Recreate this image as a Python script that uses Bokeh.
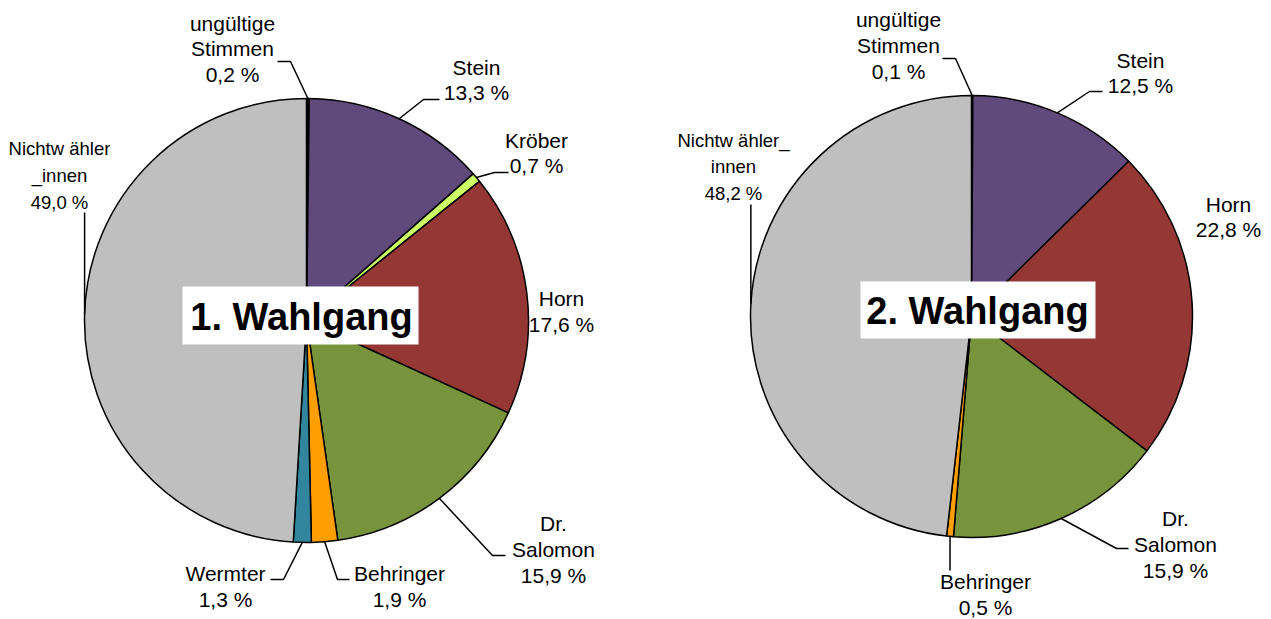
import math
from bokeh.plotting import figure
from bokeh.models import Range1d
from bokeh.core.properties import value
from bokeh.embed import file_html
from bokeh.resources import INLINE

# ---------------- data ----------------
title_1 = "1. Wahlgang"
names_1 = ["ungültige\nStimmen", "Stein", "Kröber", "Horn", "Dr.\nSalomon",
           "Behringer", "Wermter", "Nichtw ähler\n_innen"]
values_1 = [0.2, 13.3, 0.7, 17.6, 15.9, 1.9, 1.3, 49.0]
colors_1 = ["#000000", "#604A7B", "#CCFF66", "#953735", "#77933C",
            "#FF9E00", "#31859C", "#BFBFBF"]

title_2 = "2. Wahlgang"
names_2 = ["ungültige\nStimmen", "Stein", "Horn", "Dr.\nSalomon",
           "Behringer", "Nichtw ähler_\ninnen"]
values_2 = [0.1, 12.5, 22.8, 15.9, 0.5, 48.2]
colors_2 = ["#000000", "#604A7B", "#953735", "#77933C", "#FF9E00", "#BFBFBF"]

# ---------------- layout (page pixel coordinates) ----------------
W, H = 1271, 619
FONT = "Liberation Sans"

def X(px):
    return px

def Y(py):
    return H - py

charts = [
    dict(title=title_1, names=names_1, values=values_1, colors=colors_1,
         center=(306, 320), radius=222,
         box=(182, 418, 286, 344), title_pos=(301, 316),
         labels=[(232, 48.5), (476, 79.5), (536, 152.5), (561, 311),
                 (553, 549), (399, 586), (225, 586), (59, 175)],
         small=[False, False, False, False, False, False, False, True],
         leaders=[[(290, 61), (277, 61)], [(423, 99), (439, 99)],
                  [(494, 172), (508, 172)], None,
                  [(492, 555), (505, 555)], [(337, 579), (349, 579)],
                  [(283, 579), (270, 579)], ("v", 212)]),
    dict(title=title_2, names=names_2, values=values_2, colors=colors_2,
         center=(971, 316), radius=221,
         box=(860, 1095, 281, 338), title_pos=(977, 310),
         labels=[(898, 45), (1140, 72.5), (1228, 216.5), (1175, 544),
                 (985, 594), (733, 166.5)],
         small=[False, False, False, False, False, True],
         leaders=[[(955, 58), (942, 58)], [(1089, 91), (1102, 91)], None,
                  [(1116, 548), (1128, 548)], ("v", 570), ("v", 204)]),
]

p = figure(width=W, height=H, output_backend="svg", toolbar_location=None,
           x_range=Range1d(0, W), y_range=Range1d(0, H), min_border=0)
p.axis.visible = False
p.grid.visible = False
p.outline_line_color = None
p.background_fill_color = "white"

for ch in charts:
    vals = ch["values"]
    total = sum(vals)
    cx, cy = X(ch["center"][0]), Y(ch["center"][1])
    r = ch["radius"]
    starts, ends, mids = [], [], []
    cum = 0.0
    for v in vals:
        a0 = math.pi / 2 - 2 * math.pi * cum / total
        a1 = math.pi / 2 - 2 * math.pi * (cum + v) / total
        starts.append(a1)
        ends.append(a0)
        mids.append(math.pi / 2 - 2 * math.pi * (cum + v / 2) / total)
        cum += v
    p.wedge(x=[cx] * len(vals), y=[cy] * len(vals), radius=r,
            start_angle=starts, end_angle=ends, fill_color=ch["colors"],
            line_color="black", line_width=1.5)

    # leader lines
    for i, ld in enumerate(ch["leaders"]):
        if ld is None:
            continue
        sx = cx + r * math.cos(mids[i])
        sy = cy + r * math.sin(mids[i])
        if ld[0] == "v":
            xs = [sx, sx]
            ys = [sy, Y(ld[1])]
        else:
            xs = [sx] + [X(q[0]) for q in ld]
            ys = [sy] + [Y(q[1]) for q in ld]
        p.line(xs, ys, line_color="black", line_width=1.5)

    # data labels
    for small in (False, True):
        xs, ys, texts = [], [], []
        for n, v, pos, sm in zip(ch["names"], vals, ch["labels"], ch["small"]):
            if sm != small:
                continue
            texts.append(n + "\n" + f"{v:.1f}".replace(".", ",") + " %")
            xs.append(X(pos[0]))
            ys.append(Y(pos[1]))
        if texts:
            size = 18.5 if small else 21
            p.text(x=xs, y=ys, text=texts, text_font=value(FONT),
                   text_font_size=f"{size}px", text_align="center",
                   text_baseline="middle",
                   text_line_height=1.13 * 21 / size,
                   text_color="black")

    # title box
    l, rr, t, b = ch["box"]
    p.quad(left=X(l), right=X(rr), top=Y(t), bottom=Y(b),
           fill_color="white", line_color=None)
    p.text(x=[X(ch["title_pos"][0])], y=[Y(ch["title_pos"][1])],
           text=[ch["title"]], text_font=value(FONT), text_font_size="38px",
           text_font_style="bold", text_align="center",
           text_baseline="middle", text_color="black")

open("out.html", "w").write(file_html(p, INLINE))
